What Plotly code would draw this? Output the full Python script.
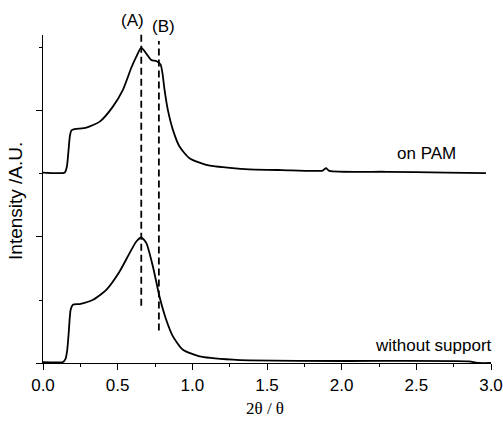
import plotly.graph_objects as go

# ---- data ----
pam_x = [0.0, 0.146, 0.160, 0.170, 0.180, 0.190, 0.212, 0.29, 0.38, 0.468, 0.535, 0.59, 0.625,
         0.658, 0.69, 0.725, 0.758, 0.787, 0.800, 0.814, 0.836, 0.87, 0.914, 0.981, 1.093,
         1.27, 1.38, 1.60, 1.873, 1.895, 1.918, 2.3, 2.7, 2.966]
pam_y = [3.022, 3.025, 3.12, 3.35, 3.60, 3.69, 3.711, 3.736, 3.831, 4.069, 4.334, 4.678, 4.862,
         5.005, 4.916, 4.810, 4.794, 4.740, 4.60, 4.334, 4.017, 3.700, 3.435, 3.251, 3.145,
         3.092, 3.073, 3.062, 3.054, 3.092, 3.050, 3.035, 3.022, 3.013]

bare_x = [0.0, 0.134, 0.150, 0.162, 0.172, 0.185, 0.2, 0.245, 0.335, 0.424, 0.513, 0.58, 0.625,
          0.658, 0.692, 0.736, 0.78, 0.825, 0.87, 0.937, 1.048, 1.271, 1.382, 2.0, 2.85, 2.92, 3.0]
bare_y = [0.013, 0.016, 0.06, 0.20, 0.476, 0.845, 0.925, 0.936, 1.004, 1.162, 1.453, 1.744, 1.928,
          1.992, 1.903, 1.532, 1.056, 0.687, 0.422, 0.211, 0.105, 0.052, 0.041, 0.032, 0.025, 0.0, 0.0]

peak_x = [0.658, 0.776]
peak_top = [5.27, 5.11]
peak_bottom = [0.909, 0.517]
peak_labels = ["(A)", "(B)"]
peak_label_x = [0.598, 0.807]
peak_label_y = [5.433, 5.338]

curve_labels = ["on PAM", "without support"]
curve_label_x = [2.565, 2.613]
curve_label_y = [3.318, 0.277]

x_ticks = [0.0, 0.5, 1.0, 1.5, 2.0, 2.5, 3.0]
y_range = [0, 5.206]

fig = go.Figure()
fig.add_trace(go.Scatter(x=pam_x, y=pam_y, mode="lines",
                         line=dict(color="black", width=1.8, shape="spline", smoothing=0.6),
                         showlegend=False, hoverinfo="skip"))
fig.add_trace(go.Scatter(x=bare_x, y=bare_y, mode="lines",
                         line=dict(color="black", width=1.8, shape="spline", smoothing=0.6),
                         showlegend=False, hoverinfo="skip"))

span = y_range[1] - y_range[0]


def to_paper(v):
    return (v - y_range[0]) / span


for px, top, bot in zip(peak_x, peak_top, peak_bottom):
    fig.add_shape(type="line", xref="x", yref="paper",
                  x0=px, x1=px, y0=to_paper(bot), y1=to_paper(top),
                  line=dict(color="black", width=1.8, dash="7px,4px"))

for lab, lx, ly in zip(peak_labels, peak_label_x, peak_label_y):
    fig.add_annotation(x=lx, y=to_paper(ly), xref="x", yref="paper", text=lab, showarrow=False,
                       xanchor="center", yanchor="middle",
                       font=dict(size=17, color="black", family="Liberation Sans"))
for lab, lx, ly in zip(curve_labels, curve_label_x, curve_label_y):
    fig.add_annotation(x=lx, y=ly, xref="x", yref="y", text=lab, showarrow=False,
                       xanchor="center", yanchor="middle",
                       font=dict(size=17, color="black", family="Liberation Sans"))

# axis titles
fig.add_annotation(x=0.4955, y=-0.140, xref="paper", yref="paper", text="2θ / θ", showarrow=False,
                   xanchor="center", yanchor="middle",
                   font=dict(size=17, color="black", family="Liberation Serif"))
fig.add_annotation(x=-0.0603, y=0.494, xref="paper", yref="paper", text="Intensity /A.U.",
                   showarrow=False, textangle=-90, xanchor="center", yanchor="middle",
                   font=dict(size=19, color="black", family="Liberation Sans"))

fig.update_layout(
    width=503, height=422,
    margin=dict(l=43, r=12, t=35, b=59, autoexpand=False),
    paper_bgcolor="white", plot_bgcolor="white",
    font=dict(family="Liberation Sans", size=17, color="black"),
    xaxis=dict(range=[0, 3], tickvals=x_ticks, tickformat=".1f", automargin=False,
               ticklabeloverflow="allow",
               showgrid=False, zeroline=False, showline=True, linecolor="black", linewidth=1.3,
               ticks="outside", ticklen=6, tickwidth=1.2, tickcolor="black",
               minor=dict(dtick=0.25, tick0=0, ticks="outside", ticklen=3, tickwidth=1.2, tickcolor="black"),
               tickfont=dict(size=17, family="Liberation Sans")),
    yaxis=dict(range=y_range, tick0=0, dtick=2, showticklabels=False, automargin=False,
               showgrid=False, zeroline=False, showline=True, linecolor="black", linewidth=1.3,
               ticks="outside", ticklen=6, tickwidth=1.2, tickcolor="black",
               minor=dict(dtick=1, tick0=0, ticks="outside", ticklen=3, tickwidth=1.2, tickcolor="black")),
)

# remove the page's default body margin so the figure sits at the window's corner
fig.write_html("out.html", config={"displayModeBar": False},
               post_script="document.body.style.margin='0';document.body.style.overflow='hidden';")
